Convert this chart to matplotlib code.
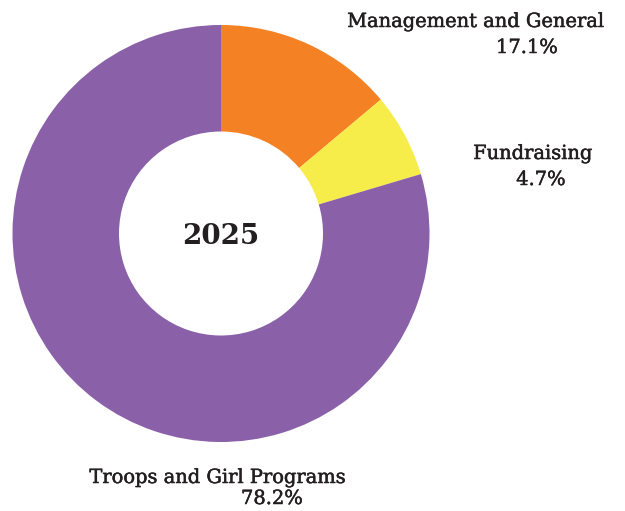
import numpy as np
import matplotlib
matplotlib.use("Agg")
import matplotlib.pyplot as plt
import matplotlib.patheffects as pe

# slice sizes as drawn in the reference (degrees of arc measured off the ring)
categories = ["Management and General", "Fundraising", "Troops and Girl Programs"]
shares = [13.9, 6.5, 79.6]
pct_labels = ["17.1%", "4.7%", "78.2%"]
colors = ["#F48224", "#F6EC4A", "#8A61A8"]
year = "2025"

W, H = 625, 511
fig = plt.figure(figsize=(W / 100, H / 100), dpi=100)
ax = fig.add_axes([0, 0, 1, 1])

cx, cy = 221, H - 233.5
r_out = 208.5
r_in = 102

ax.pie(shares, colors=colors, startangle=90, counterclock=False,
       center=(cx, cy), radius=r_out, frame=True,
       wedgeprops=dict(width=r_out - r_in, linewidth=0))
ax.set_xlim(0, W)
ax.set_ylim(0, H)
ax.axis("off")

txt = "#231F20"
font = "DejaVu Serif"
ax.text(cx, cy - 2.5, year, ha="center", va="center", fontsize=20,
        fontweight="bold", family=font, color=txt)

# thicken the regular face a little, the reference uses a medium weight
stroke = [pe.withStroke(linewidth=0.35, foreground=txt)]

# label positions (pixel centres from the reference, y from top)
label_xy = [(476, 22), (533, 154), (218, 478)]
pct_xy = [(527, 48), (541, 180), (272, 499)]
for name, p, (lx, ly), (px, py) in zip(categories, pct_labels, label_xy, pct_xy):
    ax.text(lx, H - ly, name, ha="center", va="center", fontsize=14,
            family=font, color=txt, path_effects=stroke)
    ax.text(px, H - py, p, ha="center", va="center", fontsize=14,
            family=font, color=txt, path_effects=stroke)

plt.savefig("out.png", dpi=100)
